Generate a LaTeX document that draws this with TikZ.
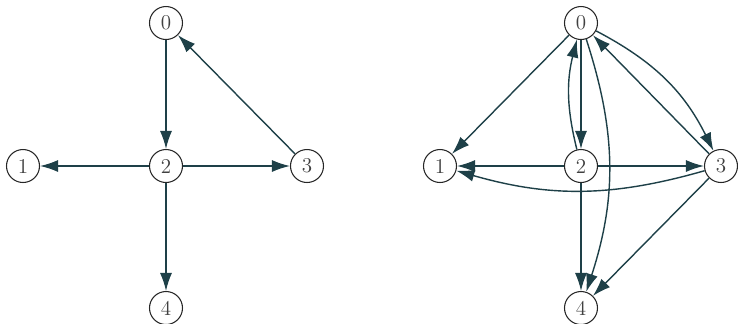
\documentclass[tikz,border=0pt]{standalone}
\usepackage{tikz}
\usetikzlibrary{arrows.meta,positioning}
\definecolor{edgecol}{RGB}{30,64,72}
\tikzset{
  vtx/.style={draw=black!85, line width=0.6pt, circle, minimum size=6.6mm, inner sep=0pt, fill=white, text=black!75, font=\large},
  arc/.style={draw=edgecol, line width=0.8pt, -{Latex[length=3.6mm,width=2.4mm]}},
}

\begin{document}
\begin{tikzpicture}[x=0.2mm, y=-0.2mm]
  \useasboundingbox (0,0) rectangle (738,323);
  % before
  \node[vtx] (a0) at (166,23) {0};
  \node[vtx] (a1) at (23,166) {1};
  \node[vtx] (a2) at (166,166) {2};
  \node[vtx] (a3) at (307,166) {3};
  \node[vtx] (a4) at (166,308) {4};
  \foreach \a/\b in {a0/a2,a2/a1,a2/a3,a2/a4,a3/a0}
    \draw[arc] (\a) -- (\b);
  % after
  \node[vtx] (b0) at (581,23) {0};
  \node[vtx] (b1) at (440,166) {1};
  \node[vtx] (b2) at (581,166) {2};
  \node[vtx] (b3) at (721,166) {3};
  \node[vtx] (b4) at (581,308) {4};
  \foreach \a/\b in {b0/b1,b0/b2,b2/b1,b2/b3,b2/b4,b3/b0,b3/b4}
    \draw[arc] (\a) -- (\b);
  \foreach \a/\b/\t in {b2/b0/14,b0/b3/18,b0/b4/18,b3/b1/16}
    \draw[arc] (\a) to[bend left=\t] (\b);
\end{tikzpicture}
\end{document}
